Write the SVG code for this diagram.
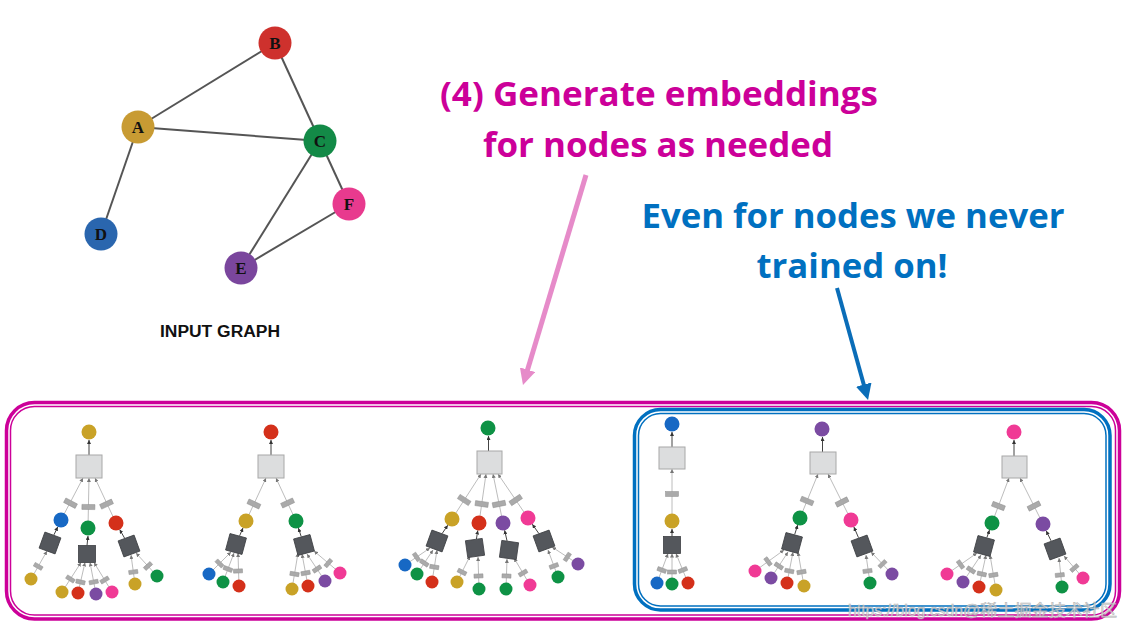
<svg xmlns="http://www.w3.org/2000/svg" xmlns:xlink="http://www.w3.org/1999/xlink" width="1128" height="629" viewBox="0 0 1128 629">
<style>
.tm{font-family:"Open Sans","Liberation Sans",sans-serif;font-weight:700;font-size:34px;fill:#CC0099}
.tb{font-family:"Open Sans","Liberation Sans",sans-serif;font-weight:700;font-size:34px;fill:#0070C0}
.gl{font-family:"Liberation Serif","DejaVu Serif",serif;font-weight:700;font-size:17px;text-anchor:middle;fill:#111}
.cap{font-family:"Liberation Sans",Arial,sans-serif;font-weight:700;font-size:16px;fill:#111}
.ge{stroke:#555;stroke-width:2;fill:none}
.e{stroke:#ABABAB;stroke-width:.8;fill:none;marker-end:url(#sa)}
.u{stroke:#444;stroke-width:1;fill:none;marker-end:url(#da)}
.lb{fill:#AAAAAA;stroke:#8E8E8E;stroke-width:.5}
.rt{fill:#DCDDDE;stroke:#A8A8A8;stroke-width:1}
.ag{fill:#54575C;stroke:#3E4044;stroke-width:.8}
.Y{fill:#C9A227}.R{fill:#D4301A}.G{fill:#0E9245}.B{fill:#1768C4}.P{fill:#7B4BA2}.K{fill:#F03A95}
.wm{font-family:"Liberation Sans","Noto Sans CJK SC",sans-serif;font-size:16px;fill:#EEEEEE;stroke:#A8A8A8;stroke-width:.6;opacity:.85}
</style>
<defs>
<marker id="sa" viewBox="0 0 4 4" refX="4" refY="2" markerWidth="4" markerHeight="4" markerUnits="userSpaceOnUse" orient="auto"><path d="M0,0L4,2L0,4z" fill="#777"/></marker>
<marker id="da" viewBox="0 0 4 4" refX="4" refY="2" markerWidth="4" markerHeight="4" markerUnits="userSpaceOnUse" orient="auto"><path d="M0,0L4,2L0,4z" fill="#333"/></marker>
<marker id="pa" viewBox="0 0 16 16" refX="2" refY="8" markerWidth="16" markerHeight="16" markerUnits="userSpaceOnUse" orient="auto"><path d="M0,0L16,8L0,16z" fill="#E68BC9"/></marker>
<marker id="ba" viewBox="0 0 16 16" refX="2" refY="8" markerWidth="16" markerHeight="16" markerUnits="userSpaceOnUse" orient="auto"><path d="M0,0L16,8L0,16z" fill="#0A6DB8"/></marker>
<rect id="lb" class="lb" x="-6.5" y="-2.5" width="13" height="5"/>
<rect id="lc" class="lb" x="-4.5" y="-2" width="9" height="4"/>
<rect id="ag" class="ag" x="-8.5" y="-8.5" width="17" height="17"/>
</defs>
<rect width="1128" height="629" fill="#fff"/>

<!-- titles -->
<text class="tm" x="659" y="106" text-anchor="middle" textLength="438" lengthAdjust="spacingAndGlyphs">(4) Generate embeddings</text>
<text class="tm" x="658" y="157" text-anchor="middle" textLength="350" lengthAdjust="spacingAndGlyphs">for nodes as needed</text>
<text class="tb" x="853" y="228" text-anchor="middle" textLength="423" lengthAdjust="spacingAndGlyphs">Even for nodes we never</text>
<text class="tb" x="852" y="278" text-anchor="middle" textLength="191" lengthAdjust="spacingAndGlyphs">trained on!</text>

<!-- frames -->
<g id="frame-all" fill="none" stroke="#CC0099">
<rect x="6.5" y="402.5" width="1113" height="216.5" rx="28" stroke-width="3.5"/>
<rect x="10.5" y="406.5" width="1105" height="208.5" rx="24" stroke-width="1.5"/>
</g>
<g id="frame-new" fill="none" stroke="#0070C0">
<rect x="634.5" y="409.5" width="475.5" height="200.5" rx="26" stroke-width="3.5"/>
<rect x="638.5" y="413.5" width="467.5" height="192.5" rx="22" stroke-width="1.5"/>
</g>

<!-- input graph connectors -->
<g id="graph-edges" class="ge">
<line x1="138" y1="127" x2="275" y2="43"/>
<line x1="138" y1="127" x2="320" y2="141"/>
<line x1="275" y1="43" x2="320" y2="141"/>
<line x1="138" y1="127" x2="101" y2="234"/>
<line x1="320" y1="141" x2="241" y2="268"/>
<line x1="320" y1="141" x2="349" y2="204"/>
<line x1="241" y1="268" x2="349" y2="204"/>
</g>
<g id="node-A"><circle cx="138" cy="127" r="16.5" fill="#C89B33"/><text class="gl" x="138" y="133">A</text></g>
<g id="node-B"><circle cx="275" cy="43" r="16.5" fill="#CE312D"/><text class="gl" x="275" y="49">B</text></g>
<g id="node-C"><circle cx="320" cy="141" r="16.5" fill="#138A47"/><text class="gl" x="320" y="147">C</text></g>
<g id="node-D"><circle cx="101" cy="234" r="16.5" fill="#2A66AE"/><text class="gl" x="101" y="240">D</text></g>
<g id="node-E"><circle cx="241" cy="268" r="16.5" fill="#7A469D"/><text class="gl" x="241" y="274">E</text></g>
<g id="node-F"><circle cx="349" cy="204" r="16.5" fill="#E83A8E"/><text class="gl" x="349" y="210">F</text></g>
<text class="cap" x="220" y="337" text-anchor="middle" textLength="120" lengthAdjust="spacingAndGlyphs">INPUT GRAPH</text>

<!-- big arrows -->
<g id="callout-arrows">
<line x1="586" y1="175" x2="527" y2="371.6" stroke="#E68BC9" stroke-width="5" marker-end="url(#pa)"/>
<line x1="837" y1="288" x2="864.3" y2="386.5" stroke="#0A6DB8" stroke-width="4" marker-end="url(#ba)"/>
</g>

<!-- tree connectors -->
<g id="tree-connectors">
<!-- tree 1 -->
<line class="e" x1="61" y1="520" x2="83" y2="478"/>
<line class="e" x1="88" y1="528" x2="89" y2="478"/>
<line class="e" x1="116" y1="523" x2="95" y2="478"/>
<line class="e" x1="31" y1="579" x2="47" y2="551"/>
<line class="e" x1="62" y1="592" x2="81" y2="562.5"/>
<line class="e" x1="78" y1="593" x2="85" y2="562.5"/>
<line class="e" x1="96" y1="594" x2="90" y2="562.5"/>
<line class="e" x1="112" y1="592" x2="94" y2="562.5"/>
<line class="e" x1="135" y1="584" x2="131" y2="555"/>
<line class="e" x1="157" y1="576" x2="136" y2="553"/>
<line class="u" x1="89" y1="455" x2="89" y2="440"/>
<line class="u" x1="53.9" y1="534.9" x2="57.8" y2="526.8"/>
<line class="u" x1="87" y1="545.5" x2="88" y2="536"/>
<line class="u" x1="124.6" y1="538.2" x2="119.7" y2="529.5"/>
<use xlink:href="#lb" transform="translate(70.5,503.2) rotate(27.6)"/>
<use xlink:href="#lb" transform="translate(88.4,507) rotate(1)"/>
<use xlink:href="#lb" transform="translate(106.5,504.1) rotate(-25)"/>
<use xlink:href="#lc" transform="translate(38.2,566.4) rotate(29.7)"/>
<use xlink:href="#lc" transform="translate(70.4,579) rotate(32.8)"/>
<use xlink:href="#lc" transform="translate(80.5,582) rotate(12.9)"/>
<use xlink:href="#lc" transform="translate(93.7,582) rotate(-10.8)"/>
<use xlink:href="#lc" transform="translate(104.6,580) rotate(-31.4)"/>
<use xlink:href="#lc" transform="translate(133.3,572) rotate(-7.9)"/>
<use xlink:href="#lc" transform="translate(148,566) rotate(-42.4)"/>
<!-- tree 2 -->
<line class="e" x1="246" y1="521" x2="266" y2="478"/>
<line class="e" x1="296" y1="521" x2="276" y2="478"/>
<line class="e" x1="209" y1="574" x2="231" y2="552"/>
<line class="e" x1="223" y1="582" x2="234" y2="553"/>
<line class="e" x1="239" y1="586" x2="238" y2="553"/>
<line class="e" x1="292" y1="589" x2="298" y2="553"/>
<line class="e" x1="308" y1="586" x2="302" y2="554"/>
<line class="e" x1="325" y1="581" x2="307" y2="554"/>
<line class="e" x1="340" y1="573" x2="314" y2="551"/>
<line class="u" x1="271" y1="455" x2="271" y2="440"/>
<line class="u" x1="239.6" y1="535.8" x2="243" y2="527.9"/>
<line class="u" x1="301.2" y1="536.5" x2="298.4" y2="528.1"/>
<use xlink:href="#lb" transform="translate(253.9,504) rotate(25)"/>
<use xlink:href="#lb" transform="translate(287.6,503) rotate(-25)"/>
<use xlink:href="#lc" transform="translate(219.5,563.5) rotate(45)"/>
<use xlink:href="#lc" transform="translate(227.9,569) rotate(21)"/>
<use xlink:href="#lc" transform="translate(238,571) rotate(-2)"/>
<use xlink:href="#lc" transform="translate(294.5,574) rotate(9.5)"/>
<use xlink:href="#lc" transform="translate(305.6,573) rotate(-10.6)"/>
<use xlink:href="#lc" transform="translate(317,569) rotate(-33.7)"/>
<use xlink:href="#lc" transform="translate(328.3,563.1) rotate(-49.8)"/>
<!-- tree 3 -->
<line class="e" x1="452" y1="519" x2="481" y2="474"/>
<line class="e" x1="479" y1="523" x2="486" y2="474"/>
<line class="e" x1="503" y1="523" x2="493" y2="474"/>
<line class="e" x1="528" y1="518" x2="498" y2="474"/>
<line class="e" x1="405" y1="565" x2="430" y2="548"/>
<line class="e" x1="417" y1="574" x2="433" y2="550"/>
<line class="e" x1="432" y1="582" x2="437" y2="550"/>
<line class="e" x1="457" y1="582" x2="470" y2="556"/>
<line class="e" x1="479" y1="589" x2="478" y2="557"/>
<line class="e" x1="506" y1="589" x2="507" y2="559"/>
<line class="e" x1="530" y1="585" x2="514" y2="558"/>
<line class="e" x1="558" y1="577" x2="548" y2="550"/>
<line class="e" x1="578" y1="564" x2="552" y2="547"/>
<line class="u" x1="488.5" y1="451" x2="488.5" y2="436"/>
<line class="u" x1="442.1" y1="533.6" x2="447.8" y2="525.2"/>
<line class="u" x1="476.4" y1="539.1" x2="477.8" y2="530.4"/>
<line class="u" x1="507.1" y1="541.2" x2="504.6" y2="530.3"/>
<line class="u" x1="538.9" y1="533.6" x2="532.3" y2="524.2"/>
<use xlink:href="#lb" transform="translate(464.2,500) rotate(32.8)"/>
<use xlink:href="#lb" transform="translate(481.7,504) rotate(8)"/>
<use xlink:href="#lb" transform="translate(499,504) rotate(-11.5)"/>
<use xlink:href="#lb" transform="translate(515.7,500) rotate(-34)"/>
<use xlink:href="#lc" transform="translate(416.5,557) rotate(55.8)"/>
<use xlink:href="#lc" transform="translate(424.3,563) rotate(33.7)"/>
<use xlink:href="#lc" transform="translate(434.3,567) rotate(9)"/>
<use xlink:href="#lc" transform="translate(462,572) rotate(26.6)"/>
<use xlink:href="#lc" transform="translate(478.5,576) rotate(-2)"/>
<use xlink:href="#lc" transform="translate(506.5,576) rotate(2)"/>
<use xlink:href="#lc" transform="translate(523,573) rotate(-30.6)"/>
<use xlink:href="#lc" transform="translate(553.9,566) rotate(-20.3)"/>
<use xlink:href="#lc" transform="translate(567.3,557) rotate(-56.8)"/>
<!-- tree 4 -->
<line class="e" x1="672" y1="521" x2="672" y2="469"/>
<line class="e" x1="657" y1="583" x2="668" y2="553.5"/>
<line class="e" x1="672" y1="584" x2="672" y2="553.5"/>
<line class="e" x1="688" y1="583" x2="676" y2="553.5"/>
<line class="u" x1="672" y1="447" x2="672" y2="432"/>
<line class="u" x1="672" y1="536.5" x2="672" y2="529"/>
<use xlink:href="#lb" transform="translate(672,494)"/>
<use xlink:href="#lc" transform="translate(661.8,570) rotate(20)"/>
<use xlink:href="#lc" transform="translate(672,572)"/>
<use xlink:href="#lc" transform="translate(682.8,570) rotate(-21.8)"/>
<!-- tree 5 -->
<line class="e" x1="800" y1="518" x2="818" y2="474"/>
<line class="e" x1="851" y1="520" x2="828" y2="474"/>
<line class="e" x1="755" y1="571" x2="784" y2="550"/>
<line class="e" x1="771" y1="578" x2="788" y2="552"/>
<line class="e" x1="787" y1="583" x2="793" y2="552"/>
<line class="e" x1="804" y1="586" x2="798" y2="552"/>
<line class="e" x1="870" y1="583" x2="866" y2="555"/>
<line class="e" x1="892" y1="574" x2="871" y2="552"/>
<line class="u" x1="822.5" y1="452" x2="822.5" y2="437"/>
<line class="u" x1="794.7" y1="534.4" x2="797.7" y2="525.1"/>
<line class="u" x1="858.5" y1="537.7" x2="853.9" y2="526.9"/>
<use xlink:href="#lb" transform="translate(807,501) rotate(22.2)"/>
<use xlink:href="#lb" transform="translate(842,502) rotate(-26.6)"/>
<use xlink:href="#lc" transform="translate(768,561.5) rotate(54.1)"/>
<use xlink:href="#lc" transform="translate(778.8,566) rotate(33.2)"/>
<use xlink:href="#lc" transform="translate(789.3,571) rotate(11)"/>
<use xlink:href="#lc" transform="translate(801.5,572) rotate(-10)"/>
<use xlink:href="#lc" transform="translate(867.5,571) rotate(-8.1)"/>
<use xlink:href="#lc" transform="translate(882.5,564) rotate(-43.7)"/>
<!-- tree 6 -->
<line class="e" x1="992" y1="523" x2="1009" y2="478"/>
<line class="e" x1="1043" y1="524" x2="1020" y2="478"/>
<line class="e" x1="947" y1="574" x2="977" y2="553"/>
<line class="e" x1="963" y1="582" x2="981" y2="555"/>
<line class="e" x1="979" y1="587" x2="986" y2="555"/>
<line class="e" x1="996" y1="590" x2="990" y2="555"/>
<line class="e" x1="1062" y1="587" x2="1059" y2="558"/>
<line class="e" x1="1083" y1="578" x2="1064" y2="556"/>
<line class="u" x1="1014" y1="456" x2="1014" y2="440"/>
<line class="u" x1="986.9" y1="537.5" x2="989.5" y2="530.1"/>
<line class="u" x1="1051.1" y1="540.9" x2="1046.2" y2="530.8"/>
<use xlink:href="#lb" transform="translate(998.4,506) rotate(20.7)"/>
<use xlink:href="#lb" transform="translate(1034,506) rotate(-26.6)"/>
<use xlink:href="#lc" transform="translate(960.5,564.5) rotate(55)"/>
<use xlink:href="#lc" transform="translate(971,570) rotate(33.7)"/>
<use xlink:href="#lc" transform="translate(981.8,574) rotate(12.3)"/>
<use xlink:href="#lc" transform="translate(993.4,575) rotate(-9.7)"/>
<use xlink:href="#lc" transform="translate(1059.8,575) rotate(-5.9)"/>
<use xlink:href="#lc" transform="translate(1074.4,568) rotate(-40.8)"/>
</g>

<!-- tree 1 (A) -->
<g id="tree-A">
<circle class="Y" cx="89" cy="432" r="7.5"/>
<rect class="rt" x="76" y="455" width="26" height="23"/>
<circle class="B" cx="61" cy="520" r="7.5"/><circle class="G" cx="88" cy="528" r="7.5"/><circle class="R" cx="116" cy="523" r="7.5"/>
<use xlink:href="#ag" transform="translate(50,543) rotate(20)"/><use xlink:href="#ag" transform="translate(87,554)"/><use xlink:href="#ag" transform="translate(129,546) rotate(-20)"/>
<circle class="Y" cx="31" cy="579" r="6.5"/>
<circle class="Y" cx="62" cy="592" r="6.5"/><circle class="R" cx="78" cy="593" r="6.5"/><circle class="P" cx="96" cy="594" r="6.5"/><circle class="K" cx="112" cy="592" r="6.5"/>
<circle class="Y" cx="135" cy="584" r="6.5"/><circle class="G" cx="157" cy="576" r="6.5"/>
</g>
<!-- tree 2 (B) -->
<g id="tree-B">
<circle class="R" cx="271" cy="432" r="7.5"/>
<rect class="rt" x="258" y="455" width="26" height="23"/>
<circle class="Y" cx="246" cy="521" r="7.5"/><circle class="G" cx="296" cy="521" r="7.5"/>
<use xlink:href="#ag" transform="translate(236,544) rotate(15)"/><use xlink:href="#ag" transform="translate(304,545) rotate(-15)"/>
<circle class="B" cx="209" cy="574" r="6.5"/><circle class="G" cx="223" cy="582" r="6.5"/><circle class="R" cx="239" cy="586" r="6.5"/>
<circle class="Y" cx="292" cy="589" r="6.5"/><circle class="R" cx="308" cy="586" r="6.5"/><circle class="P" cx="325" cy="581" r="6.5"/><circle class="K" cx="340" cy="573" r="6.5"/>
</g>
<!-- tree 3 (C) -->
<g id="tree-C">
<circle class="G" cx="488" cy="428" r="7.5"/>
<rect class="rt" x="477" y="451" width="25" height="23"/>
<circle class="Y" cx="452" cy="519" r="7.5"/><circle class="R" cx="479" cy="523" r="7.5"/><circle class="P" cx="503" cy="523" r="7.5"/><circle class="K" cx="528" cy="518" r="7.5"/>
<use xlink:href="#ag" transform="translate(437,541) rotate(20)"/><use xlink:href="#ag" transform="translate(475,548) rotate(-8)"/><use xlink:href="#ag" transform="translate(509,550) rotate(8)"/><use xlink:href="#ag" transform="translate(544,541) rotate(-20)"/>
<circle class="B" cx="405" cy="565" r="6.5"/><circle class="G" cx="417" cy="574" r="6.5"/><circle class="R" cx="432" cy="582" r="6.5"/>
<circle class="Y" cx="457" cy="582" r="6.5"/><circle class="G" cx="479" cy="589" r="6.5"/>
<circle class="G" cx="506" cy="589" r="6.5"/><circle class="K" cx="530" cy="585" r="6.5"/>
<circle class="G" cx="558" cy="577" r="6.5"/><circle class="P" cx="578" cy="564" r="6.5"/>
</g>
<!-- tree 4 (D) -->
<g id="tree-D">
<circle class="B" cx="672" cy="424" r="7.5"/>
<rect class="rt" x="659" y="447" width="26" height="22"/>
<circle class="Y" cx="672" cy="521" r="7.5"/>
<use xlink:href="#ag" transform="translate(672,545)"/>
<circle class="B" cx="657" cy="583" r="6.5"/><circle class="G" cx="672" cy="584" r="6.5"/><circle class="R" cx="688" cy="583" r="6.5"/>
</g>
<!-- tree 5 (E) -->
<g id="tree-E">
<circle class="P" cx="822" cy="429" r="7.5"/>
<rect class="rt" x="810" y="452" width="26" height="22"/>
<circle class="G" cx="800" cy="518" r="7.5"/><circle class="K" cx="851" cy="520" r="7.5"/>
<use xlink:href="#ag" transform="translate(792,543) rotate(15)"/><use xlink:href="#ag" transform="translate(862,546) rotate(-20)"/>
<circle class="K" cx="755" cy="571" r="6.5"/><circle class="P" cx="771" cy="578" r="6.5"/><circle class="R" cx="787" cy="583" r="6.5"/><circle class="Y" cx="804" cy="586" r="6.5"/>
<circle class="G" cx="870" cy="583" r="6.5"/><circle class="P" cx="892" cy="574" r="6.5"/>
</g>
<!-- tree 6 (F) -->
<g id="tree-F">
<circle class="K" cx="1014" cy="432" r="7.5"/>
<rect class="rt" x="1002" y="456" width="25" height="22"/>
<circle class="G" cx="992" cy="523" r="7.5"/><circle class="P" cx="1043" cy="524" r="7.5"/>
<use xlink:href="#ag" transform="translate(984,546) rotate(15)"/><use xlink:href="#ag" transform="translate(1055,549) rotate(-20)"/>
<circle class="K" cx="947" cy="574" r="6.5"/><circle class="P" cx="963" cy="582" r="6.5"/><circle class="R" cx="979" cy="587" r="6.5"/><circle class="Y" cx="996" cy="590" r="6.5"/>
<circle class="G" cx="1062" cy="587" r="6.5"/><circle class="K" cx="1083" cy="578" r="6.5"/>
</g>

<!-- watermark -->
<text class="wm" x="848" y="616" textLength="115" lengthAdjust="spacingAndGlyphs">https://blog.csdn</text>
<text class="wm" x="963" y="616" textLength="154" lengthAdjust="spacingAndGlyphs">@稀土掘金技术社区</text>
</svg>
